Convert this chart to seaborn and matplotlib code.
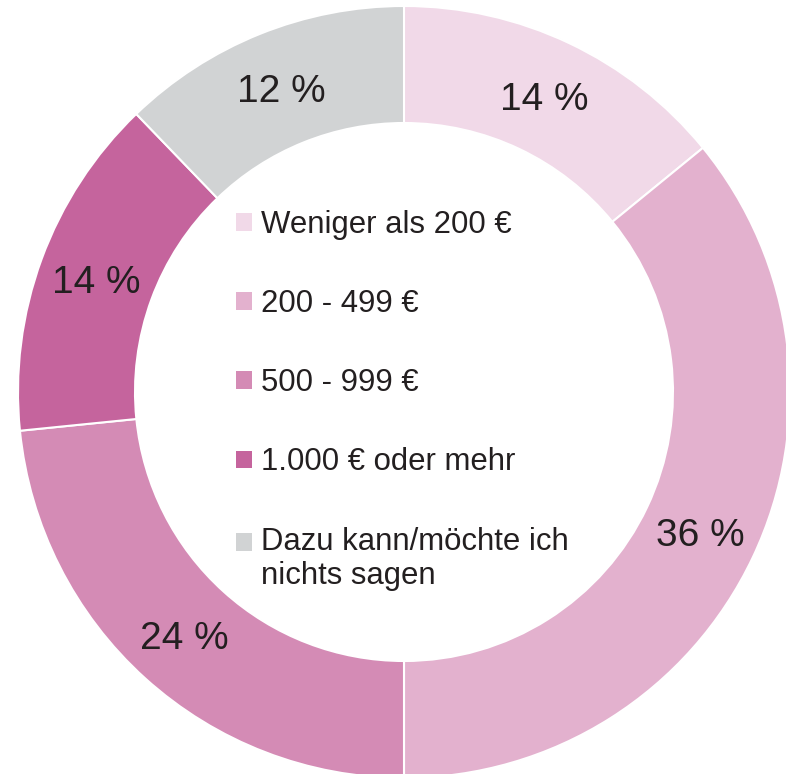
import matplotlib.pyplot as plt
import seaborn as sns
from matplotlib.patches import Patch

categories = [
    "Weniger als 200 €",
    "200 - 499 €",
    "500 - 999 €",
    "1.000 € oder mehr",
    "Dazu kann/möchte ich\nnichts sagen",
]
# shares as measured from the wedge angles, labels as printed on the chart
shares = [14.1, 35.9, 23.4, 14.4, 12.2]
share_labels = ["14 %", "36 %", "24 %", "14 %", "12 %"]
colors = ["#F1D9E8", "#E3B1CE", "#D48BB5", "#C5649D", "#D1D3D4"]

sns.set_theme(style="white")
plt.rcParams["font.family"] = ["Liberation Sans", "DejaVu Sans"]

fig = plt.figure(figsize=(7.86, 7.74), dpi=100)
ax = fig.add_axes([0, 0, 1, 1])

outer_r = 386
ring_w = 117
wedges, _, pct_texts = ax.pie(
    shares,
    colors=colors,
    center=(404, 382),
    radius=outer_r,
    startangle=90,
    counterclock=False,
    autopct="%.0f",
    pctdistance=(outer_r - ring_w / 2) / outer_r,
    wedgeprops=dict(width=ring_w, edgecolor="white", linewidth=1.5),
    textprops=dict(fontsize=28, color="#231F20", va="center_baseline"),
    frame=True,
)
for t, lab in zip(pct_texts, share_labels):
    t.set_text(lab)

ax.set_xlim(0, 786)
ax.set_ylim(0, 774)
ax.set_aspect("equal")
ax.axis("off")

handles = [Patch(facecolor=c, edgecolor="none") for c in colors]
leg = ax.legend(
    handles,
    categories,
    loc="upper left",
    bbox_to_anchor=(236, 564),
    bbox_transform=ax.transData,
    frameon=False,
    fontsize=22.4,
    labelcolor="#231F20",
    handlelength=0.5,
    handleheight=0.5,
    handletextpad=0.3,
    labelspacing=1.58,
    borderpad=0,
    borderaxespad=0,
)
# square of the two-line entry sits on its first line
last = leg.legend_handles[-1]
last.set_y(last.get_y() + 12.6)

fig.savefig("out.png", dpi=100)
